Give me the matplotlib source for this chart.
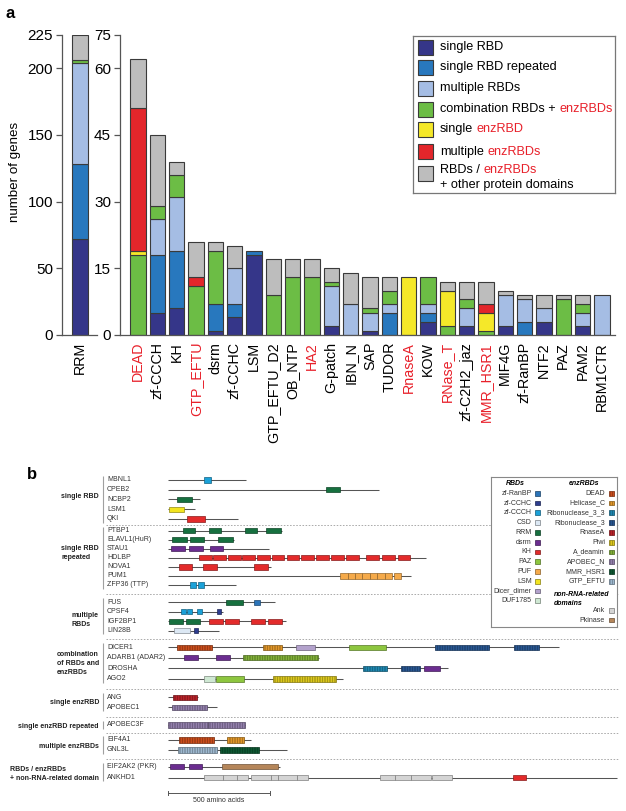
import numpy as np
import matplotlib
matplotlib.use('Agg')
import matplotlib.pyplot as plt
from matplotlib.patches import Rectangle
from matplotlib.colors import to_rgb

plt.rcParams['font.family'] = ['Liberation Sans', 'DejaVu Sans']
plt.rcParams['hatch.linewidth'] = 0.45

W, H = 626, 811
RED_TXT = '#e8202a'
EDGE = '#3a3a3a'
SPINE = '#555555'

# ---------------- Panel a data ----------------
categories_a = ['single RBD', 'single RBD repeated', 'multiple RBDs',
                'combination RBDs + enzRBDs', 'single enzRBD', 'multiple enzRBDs',
                'RBDs / enzRBDs + other protein domains']
cat_colors = ['#353689', '#2878be', '#a5bde4', '#6cbd45', '#f5e829', '#e3262b', '#bdbdbd']

rrm_label = 'RRM'
rrm_counts = [72, 56, 76, 2, 0, 0, 19]

domains_a = ['DEAD', 'zf-CCCH', 'KH', 'GTP_EFTU', 'dsrm', 'zf-CCHC', 'LSM', 'GTP_EFTU_D2',
             'OB_NTP', 'HA2', 'G-patch', 'IBN_N', 'SAP', 'TUDOR', 'RnaseA', 'KOW', 'RNase_T',
             'zf-C2H2_jaz', 'MMR_HSR1', 'MIF4G', 'zf-RanBP', 'NTF2', 'PAZ', 'PAM2', 'RBM1CTR']
enz_domains_a = ['DEAD', 'GTP_EFTU', 'HA2', 'RnaseA', 'RNase_T', 'MMR_HSR1']

single_rbd     = [0, 5, 6, 0, 1, 4, 18, 0, 0, 0, 2, 0, 1, 0, 0, 3, 0, 2, 0, 2, 0, 3, 0, 2, 0]
single_rbd_rep = [0, 13, 13, 0, 6, 3, 1, 0, 0, 0, 0, 0, 0, 5, 0, 2, 0, 0, 0, 0, 3, 0, 0, 0, 0]
multiple_rbds  = [0, 8, 12, 0, 0, 8, 0, 0, 0, 0, 9, 7, 4, 2, 0, 2, 0, 4, 0, 7, 5, 3, 0, 3, 9]
combination    = [18, 3, 5, 11, 12, 0, 0, 9, 13, 13, 1, 0, 1, 3, 0, 6, 2, 2, 1, 0, 0, 0, 8, 2, 0]
single_enz     = [1, 0, 0, 0, 0, 0, 0, 0, 0, 0, 0, 0, 0, 0, 13, 0, 8, 0, 4, 0, 0, 0, 0, 0, 0]
multiple_enz   = [32, 0, 0, 2, 0, 0, 0, 0, 0, 0, 0, 0, 0, 0, 0, 0, 0, 0, 2, 0, 0, 0, 0, 0, 0]
other_domains  = [13, 16, 3, 8, 2, 5, 0, 8, 4, 4, 3, 7, 7, 3, 0, 0, 2, 4, 5, 1, 1, 3, 1, 2, 0]

rrm_ticks = [0, 50, 100, 150, 200, 225]
main_ticks = [0, 15, 30, 45, 60, 75]

legend_a_pieces = [
    [('single RBD', 'k')],
    [('single RBD repeated', 'k')],
    [('multiple RBDs', 'k')],
    [('combination RBDs +', 'k'), ('enzRBDs', RED_TXT)],
    [('single', 'k'), ('enzRBD', RED_TXT)],
    [('multiple', 'k'), ('enzRBDs', RED_TXT)],
    [('RBDs /', 'k'), ('enzRBDs', RED_TXT)],
]
legend_a_extra = '+ other protein domains'

# ---------------- Panel b data ----------------
protein_names = ['MBNL1', 'CPEB2', 'NCBP2', 'LSM1', 'QKI',
                 'PTBP1', 'ELAVL1(HuR)', 'STAU1', 'HDLBP', 'NOVA1', 'PUM1', 'ZFP36 (TTP)',
                 'FUS', 'CPSF4', 'IGF2BP1', 'LIN28B',
                 'DICER1', 'ADARB1 (ADAR2)', 'DROSHA', 'AGO2',
                 'ANG', 'APOBEC1', 'APOBEC3F', 'EIF4A1', 'GNL3L',
                 'EIF2AK2 (PKR)', 'ANKHD1']
protein_lengths = [382, 1036, 156, 133, 341,
                   557, 323, 497, 1268, 507, 1192, 333,
                   526, 270, 577, 251,
                   1923, 741, 1374, 860,
                   148, 238, 375, 406, 582,
                   549, 2209]
protein_domains = [
    [('zf-CCCH', 177, 208)],
    [('RRM', 775, 846)],
    [('RRM', 41, 115)],
    [('LSM', 5, 77)],
    [('KH', 93, 179)],
    [('RRM', 74, 133), ('RRM', 200, 259), ('RRM', 379, 436), ('RRM', 480, 552)],
    [('RRM', 20, 92), ('RRM', 108, 177), ('RRM', 246, 318)],
    [('dsrm', 13, 82), ('dsrm', 103, 170), ('dsrm', 207, 270)],
    [('KH', 151, 213), ('KH', 221, 284), ('KH', 293, 356), ('KH', 364, 426), ('KH', 436, 498),
     ('KH', 508, 570), ('KH', 582, 644), ('KH', 654, 716), ('KH', 726, 788), ('KH', 800, 862),
     ('KH', 874, 936), ('KH', 974, 1034), ('KH', 1052, 1115), ('KH', 1128, 1190)],
    [('KH', 52, 115), ('KH', 172, 238), ('KH', 423, 488)],
    [('PUF', 846, 882), ('PUF', 882, 919), ('PUF', 919, 955), ('PUF', 955, 992),
     ('PUF', 992, 1028), ('PUF', 1028, 1065), ('PUF', 1065, 1101), ('PUF', 1111, 1146)],
    [('zf-CCCH', 108, 136), ('zf-CCCH', 148, 175)],
    [('RRM', 285, 365), ('zf-RanBP', 421, 452)],
    [('zf-CCCH', 61, 87), ('zf-CCCH', 90, 118), ('zf-CCCH', 141, 167), ('zf-CCHC', 241, 259)],
    [('RRM', 3, 70), ('RRM', 85, 154), ('KH', 200, 267), ('KH', 280, 346),
     ('KH', 408, 474), ('KH', 492, 557)],
    [('CSD', 28, 107), ('zf-CCHC', 126, 144)],
    [('DEAD', 44, 216), ('Helicase_C', 467, 557), ('Dicer_dimer', 628, 724), ('PAZ', 888, 1069),
     ('Ribonuclease_3', 1313, 1578), ('Ribonuclease_3', 1700, 1825)],
    [('dsrm', 77, 146), ('dsrm', 234, 303), ('A_deamin', 369, 738)],
    [('Ribonuclease_3_3', 959, 1076), ('Ribonuclease_3', 1144, 1237), ('dsrm', 1259, 1335)],
    [('DUF1785', 174, 229), ('PAZ', 234, 374), ('Piwi', 516, 823)],
    [('RnaseA', 25, 143)],
    [('APOBEC_N', 16, 188)],
    [('APOBEC_N', 0, 193), ('APOBEC_N', 197, 375)],
    [('DEAD', 54, 226), ('Helicase_C', 287, 372)],
    [('GTP_EFTU', 49, 241), ('MMR_HSR1', 254, 446)],
    [('dsrm', 8, 77), ('dsrm', 100, 167), ('Pkinase', 266, 538)],
    [('Ank', 177, 268), ('Ank', 268, 340), ('Ank', 340, 394), ('Ank', 407, 504), ('Ank', 504, 538),
     ('Ank', 538, 632), ('Ank', 632, 689), ('Ank', 1043, 1114), ('Ank', 1114, 1195),
     ('Ank', 1195, 1291), ('Ank', 1297, 1394), ('KH', 1697, 1760)],
]

group_labels = ['single RBD', 'single RBD\nrepeated', 'multiple\nRBDs',
                'combination\nof RBDs and\nenzRBDs', 'single enzRBD',
                'single enzRBD repeated', 'multiple enzRBDs',
                'RBDs / enzRBDs\n+ non-RNA-related domain']
group_sizes = [5, 7, 4, 4, 2, 1, 2, 2]

rbd_legend = ['zf-RanBP', 'zf-CCHC', 'zf-CCCH', 'CSD', 'RRM', 'dsrm', 'KH', 'PAZ', 'PUF',
              'LSM', 'Dicer_dimer', 'DUF1785']
enz_legend = ['DEAD', 'Helicase_C', 'Ribonuclease_3_3', 'Ribonuclease_3', 'RnaseA', 'Piwi',
              'A_deamin', 'APOBEC_N', 'MMR_HSR1', 'GTP_EFTU']
other_legend = ['Ank', 'Pkinase']

domain_colors = {
    'zf-RanBP': '#2b74b8', 'zf-CCHC': '#2e3d8f', 'zf-CCCH': '#1ba1d8', 'CSD': '#dce8f4',
    'RRM': '#16703f', 'dsrm': '#6b2d90', 'KH': '#e32b2b', 'PAZ': '#8dc63f', 'PUF': '#f5aa4a',
    'LSM': '#f2e41f', 'Dicer_dimer': '#b3a2cc', 'DUF1785': '#cfe8d3',
    'DEAD': '#d9531e', 'Helicase_C': '#f0a12c', 'Ribonuclease_3_3': '#2191bd',
    'Ribonuclease_3': '#2b5d9c', 'RnaseA': '#c7252c', 'Piwi': '#ead51f', 'A_deamin': '#8bbd3c',
    'APOBEC_N': '#9d88b8', 'MMR_HSR1': '#0f5e36', 'GTP_EFTU': '#a8c4dc',
    'Ank': '#d4d4d4', 'Pkinase': '#b5865a',
}
scale_bar_aa = 500

# ---------------- layout helpers ----------------
fig = plt.figure(figsize=(W / 100, H / 100), dpi=100)


def fbox(l, t, r, b):
    return [l / W, 1 - b / H, (r - l) / W, (b - t) / H]


def darker(c, f=0.6):
    return tuple(np.array(to_rgb(c)) * f)


def rainbow(ax, x, y, pieces, fs):
    t = ax.text(x, y, pieces[0][0], color=pieces[0][1], fontsize=fs, va='center', ha='left')
    for s, c in pieces[1:]:
        t = ax.annotate(s, xy=(1, 0), xycoords=t, xytext=(0.278 * fs, 0),
                        textcoords='offset points', va='bottom', ha='left', color=c,
                        fontsize=fs)
    return t


PITCH = 19.33  # px per category


def style_axis(ax):
    for s in ['top', 'right']:
        ax.spines[s].set_visible(False)
    for s in ['left', 'bottom']:
        ax.spines[s].set_color(SPINE)
        ax.spines[s].set_linewidth(0.9)
    ax.tick_params(axis='y', direction='out', length=4.5, width=0.9, color=SPINE,
                   labelsize=11, pad=2)
    ax.tick_params(axis='x', length=0, labelsize=10.3, pad=5)


# ---------------- Panel a: RRM axis ----------------
ax_r = fig.add_axes(fbox(62, 35, 97, 335))
bottom = 0
for val, col in zip(rrm_counts, cat_colors):
    if val > 0:
        ax_r.bar([0], [val], bottom=bottom, width=15.3 / PITCH, color=col,
                 edgecolor=EDGE, linewidth=0.8)
    bottom += val
ax_r.set_xlim((62 - 80) / PITCH, (97 - 80) / PITCH)
ax_r.set_ylim(0, 225)
ax_r.set_yticks(rrm_ticks)
ax_r.set_xticks([0])
ax_r.set_xticklabels([rrm_label], rotation=90, va='top', ha='center')
style_axis(ax_r)

# ---------------- Panel a: main axis ----------------
def fwd(y):
    y = np.asarray(y, dtype=float)
    return np.where(y <= 60, y, 60 + (y - 60) * 0.5)


def inv(t):
    t = np.asarray(t, dtype=float)
    return np.where(t <= 60, t, 60 + (t - 60) * 2.0)


ax_m = fig.add_axes(fbox(120, 35, 615, 335))
ax_m.set_yscale('function', functions=(fwd, inv))
series = [single_rbd, single_rbd_rep, multiple_rbds, combination, single_enz,
          multiple_enz, other_domains]
xpos = np.arange(len(domains_a))
bottoms = np.zeros(len(domains_a))
for vals, col in zip(series, cat_colors):
    vals = np.array(vals, dtype=float)
    m = vals > 0
    ax_m.bar(xpos[m], vals[m], bottom=bottoms[m], width=15.3 / PITCH, color=col,
             edgecolor=EDGE, linewidth=0.8)
    bottoms += vals
ax_m.set_xlim(-18 / PITCH, (615 - 138) / PITCH)
ax_m.set_ylim(0, 75)
ax_m.set_yticks(main_ticks)
ax_m.set_yticklabels([str(t) for t in main_ticks])
ax_m.minorticks_off()
ax_m.set_xticks(xpos)
ax_m.set_xticklabels(domains_a, rotation=90, va='top', ha='center')
for lab in ax_m.get_xticklabels():
    if lab.get_text() in enz_domains_a:
        lab.set_color(RED_TXT)
style_axis(ax_m)

fig.text(15 / W, 1 - 172 / H, 'number of genes', rotation=90, ha='center', va='center',
         fontsize=9.6)
fig.text(5 / W, 1 - 13 / H, 'a', ha='left', va='center', fontsize=12, fontweight='bold')

# legend a
ax_la = fig.add_axes(fbox(413, 36, 615, 193))
ax_la.set_xlim(0, 202)
ax_la.set_ylim(157, 0)
ax_la.set_xticks([])
ax_la.set_yticks([])
for s in ax_la.spines.values():
    s.set_color('#777777')
    s.set_linewidth(0.9)
row_y = [11.3, 31.3, 52.3, 73, 93.3, 115.7, 137.3]
FS_LA = 9.1
for i, (pieces, col) in enumerate(zip(legend_a_pieces, cat_colors)):
    y = row_y[i]
    ax_la.add_patch(Rectangle((5.3, y - 7.5), 15, 15, facecolor=col, edgecolor=EDGE,
                              linewidth=0.8))
    if i < len(legend_a_pieces) - 1:
        rainbow(ax_la, 27, y, pieces, FS_LA)
    else:
        rainbow(ax_la, 27, y - 3.3, pieces, FS_LA)
        ax_la.text(27, y + 11.7, legend_a_extra, fontsize=FS_LA, va='center', ha='left')

# ---------------- Panel b ----------------
B_X0 = 168.3       # px position of amino acid 0
B_SCALE = 0.2033   # px per amino acid


def px2aa(px):
    return (px - B_X0) / B_SCALE


ax_b = fig.add_axes(fbox(0, 440, W, H))
ax_b.set_xlim(px2aa(0), px2aa(W))
ax_b.set_ylim(H, 440)
ax_b.axis('off')

group_y0 = [480, 530.7, 602.3, 647.3, 697.3, 725, 740, 766.7]
group_pitch = [9.75, 9.05, 9.45, 10.55, 10, 10, 10, 11]
group_label_y = [497, 553, 620, 663.5, 702.7, 726.7, 746.7, 774]
FS_B = 5.0
BOX_H = 5.2

row_ys = []
for g, (glab, gsize) in enumerate(zip(group_labels, group_sizes)):
    ys = [group_y0[g] + k * group_pitch[g] for k in range(gsize)]
    row_ys.extend(ys)
    ax_b.text(px2aa(99), group_label_y[g], glab, ha='right', va='center', multialignment='left',
              fontsize=FS_B, fontweight='bold', linespacing=1.45, color='#222222')
    ax_b.plot([px2aa(103.3)] * 2, [ys[0] - 3.8, ys[-1] + 3.8], color='#a0a0a0', lw=0.8,
              solid_capstyle='butt')
    if g < len(group_labels) - 1:
        sep_y = (ys[-1] + group_y0[g + 1]) / 2 + 0.5
        ax_b.plot([px2aa(106), px2aa(618)], [sep_y, sep_y], color='#aaaaaa', lw=0.7,
                  linestyle=(0, (1.6, 1.6)))

for name, length, doms, y in zip(protein_names, protein_lengths, protein_domains, row_ys):
    ax_b.text(px2aa(107), y, name, ha='left', va='center', fontsize=FS_B, color='#333333')
    ax_b.plot([0, length], [y, y], color='#555555', lw=0.75, solid_capstyle='butt', zorder=2)
    for dname, s, e in doms:
        c = domain_colors[dname]
        hatched = dname in enz_legend
        ax_b.add_patch(Rectangle((s, y - BOX_H / 2), e - s, BOX_H, facecolor=c,
                                 edgecolor=darker(c, 0.55 if hatched else 0.6),
                                 linewidth=0.5, hatch='|' * 10 if hatched else None,
                                 zorder=3))

# scale bar
sb_y = 792.7
ax_b.plot([0, scale_bar_aa], [sb_y, sb_y], color='#555555', lw=0.7)
for xx in [0, scale_bar_aa]:
    ax_b.plot([xx, xx], [sb_y - 2, sb_y + 2], color='#555555', lw=0.7)
ax_b.text(scale_bar_aa / 2, 801, '500 amino acids', ha='center', va='center', fontsize=FS_B,
          color='#333333')

fig.text(26.5 / W, 1 - 474 / H, 'b', ha='left', va='center', fontsize=12, fontweight='bold')

# legend b
ax_lb = fig.add_axes(fbox(490.7, 476.7, 617.3, 627.3))
ax_lb.set_zorder(5)
ax_lb.set_facecolor('white')
ax_lb.set_xlim(0, 126.6)
ax_lb.set_ylim(150.6, 0)
ax_lb.set_xticks([])
ax_lb.set_yticks([])
for s in ax_lb.spines.values():
    s.set_color('#888888')
    s.set_linewidth(0.8)
ax_lb.text(24.3, 6.6, 'RBDs', ha='center', va='center', fontsize=FS_B, fontweight='bold',
           fontstyle='italic')
ax_lb.text(93, 6.6, 'enzRBDs', ha='center', va='center', fontsize=FS_B, fontweight='bold',
           fontstyle='italic')
LP = 9.77


def leg_sq(x, y, name):
    c = domain_colors[name]
    hatched = name in enz_legend
    ax_lb.add_patch(Rectangle((x, y - 2.4), 4.8, 4.8, facecolor=c,
                              edgecolor=darker(c, 0.55), linewidth=0.5,
                              hatch='|' * 10 if hatched else None))


for i, name in enumerate(rbd_legend):
    y = 16.6 + i * LP
    ax_lb.text(41, y, name, ha='right', va='center', fontsize=FS_B, color='#333333')
    leg_sq(44.5, y, name)
for i, name in enumerate(enz_legend):
    y = 16.6 + i * LP
    ax_lb.text(114.3, y, name, ha='right', va='center', fontsize=FS_B, color='#333333')
    leg_sq(118.6, y, name)
ax_lb.text(63.3, 122, 'non-RNA-related\ndomains', ha='left', va='center', fontsize=FS_B,
           fontweight='bold', fontstyle='italic', linespacing=1.45)
for i, name in enumerate(other_legend):
    y = 134 + i * 9.3
    ax_lb.text(114.3, y, name, ha='right', va='center', fontsize=FS_B, color='#333333')
    leg_sq(118.6, y, name)

fig.savefig('out.png', dpi=100, facecolor='white')
